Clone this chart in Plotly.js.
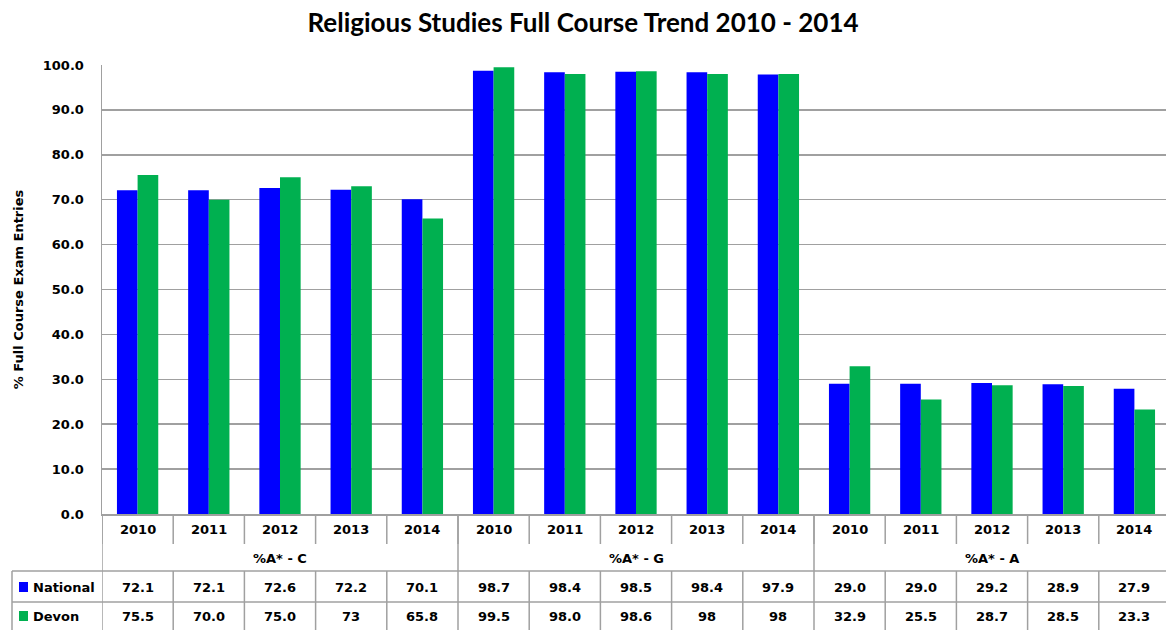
<!DOCTYPE html>
<html>
<head>
<meta charset="utf-8">
<script src="https://cdn.plot.ly/plotly-3.0.1.min.js"></script>
<style>html,body{margin:0;padding:0;background:#fff;}#chart{width:1166px;height:630px;}</style>
</head>
<body>
<div id="chart"></div>
<script>
const years = ["2010","2011","2012","2013","2014"];
const groups = ["%A* - C","%A* - G","%A* - A"];
const nationalValues = [72.1,72.1,72.6,72.2,70.1, 98.7,98.4,98.5,98.4,97.9, 29.0,29.0,29.2,28.9,27.9];
const devonValues    = [75.5,70.0,75.0,73,65.8, 99.5,98.0,98.6,98,98, 32.9,25.5,28.7,28.5,23.3];
const nationalLabels = ["72.1","72.1","72.6","72.2","70.1","98.7","98.4","98.5","98.4","97.9","29.0","29.0","29.2","28.9","27.9"];
const devonLabels    = ["75.5","70.0","75.0","73","65.8","99.5","98.0","98.6","98","98","32.9","25.5","28.7","28.5","23.3"];
const seriesNames = ["National","Devon"];
const seriesColors = ["#0000FF","#00B050"];

const n = nationalValues.length;
const xs = nationalValues.map((_, i) => i);

const plotTop = 65, plotBottom = 514, plotH = plotBottom - plotTop;
const plotLeft = 102, plotW = 1064;
const py = p => (plotBottom - p) / plotH;
const px = p => (p - plotLeft) / plotW;

const font = {family: "DejaVu Sans, Verdana, sans-serif", size: 13, color: "#000"};
const grid = "#A0A0A0";

const traces = [
  {type:"bar", x: xs, y: nationalValues, name: seriesNames[0], marker:{color: seriesColors[0]}, hoverinfo:"y"},
  {type:"bar", x: xs, y: devonValues, name: seriesNames[1], marker:{color: seriesColors[1]}, hoverinfo:"y"}
];

const annotations = [];
const shapes = [];

for (let i = 0; i < n; i++) {
  annotations.push({xref:"x", yref:"paper", x:i, y:py(529), text:"<b>"+years[i%5]+"</b>", showarrow:false, font:font, xanchor:"center", yanchor:"middle"});
  annotations.push({xref:"x", yref:"paper", x:i, y:py(587), text:"<b>"+nationalLabels[i]+"</b>", showarrow:false, font:font, xanchor:"center", yanchor:"middle"});
  annotations.push({xref:"x", yref:"paper", x:i, y:py(616), text:"<b>"+devonLabels[i]+"</b>", showarrow:false, font:font, xanchor:"center", yanchor:"middle"});
}
groups.forEach((g, gi) => {
  annotations.push({xref:"x", yref:"paper", x:gi*5+2, y:py(558), text:"<b>"+g+"</b>", showarrow:false, font:font, xanchor:"center", yanchor:"middle"});
});

const rowY = [587, 616];
seriesNames.forEach((s, si) => {
  shapes.push({type:"rect", xref:"paper", yref:"paper", x0:px(19), x1:px(28), y0:py(rowY[si]+5), y1:py(rowY[si]-5), fillcolor:seriesColors[si], line:{width:0}});
  annotations.push({xref:"paper", yref:"paper", x:px(31), y:py(rowY[si]), text:"<b>"+s+"</b>", showarrow:false, font:font, xanchor:"left", yanchor:"middle"});
});

const lineStyle = {color: grid, width: 1.5};
for (let k = -1; k < n; k++) {
  const xv = k + 0.5;
  shapes.push({type:"line", xref:"x", yref:"paper", x0:xv, x1:xv, y0:py(514), y1:py(544), line:lineStyle});
  shapes.push({type:"line", xref:"x", yref:"paper", x0:xv, x1:xv, y0:py(571), y1:py(632), line:lineStyle});
}
[-0.5, 4.5, 9.5].forEach(xv => {
  shapes.push({type:"line", xref:"x", yref:"paper", x0:xv, x1:xv, y0:py(514), y1:py(571), line:lineStyle});
});
[571, 602].forEach(yv => {
  shapes.push({type:"line", xref:"paper", yref:"paper", x0:px(12), x1:1.01, y0:py(yv), y1:py(yv), line:lineStyle});
});
shapes.push({type:"line", xref:"paper", yref:"paper", x0:px(12), x1:px(12), y0:py(571), y1:py(632), line:lineStyle});

const layout = {
  width: 1166, height: 630,
  margin: {l: plotLeft, r: 0, t: plotTop, b: 630 - plotBottom},
  paper_bgcolor: "#fff", plot_bgcolor: "#fff",
  title: {text: "<b>Religious Studies Full Course Trend 2010 - 2014</b>", font: {family: "Lato, 'Open Sans', sans-serif", size: 26, color: "#000"}, x: 0.5, xanchor: "center", y: 0.963, yanchor: "middle"},
  barmode: "group", bargap: 0.42, bargroupgap: 0,
  showlegend: false,
  xaxis: {range: [-0.5, -0.5 + plotW / 71.2], showticklabels: false, showgrid: false, zeroline: false, showline: true, linecolor: grid, linewidth: 1.5, ticks: "", fixedrange: true},
  yaxis: {range: [0, 100], dtick: 10, tickformat: ".1f", showgrid: true, gridcolor: grid, gridwidth: 1.5, zeroline: false, showline: true, linecolor: grid, linewidth: 1.5, ticks: "", ticklabelstandoff: 14,
    tickfont: {family: "DejaVu Sans, Verdana, sans-serif", size: 13, color: "#000", weight: "bold"},
    title: {text: "<b>% Full Course Exam Entries</b>", font: {family: "DejaVu Sans, Verdana, sans-serif", size: 13, color: "#000"}, standoff: 16}},
  annotations: annotations,
  shapes: shapes,
  font: font
};

Plotly.newPlot("chart", traces, layout, {displayModeBar: false, staticPlot: true});
</script>
</body>
</html>
